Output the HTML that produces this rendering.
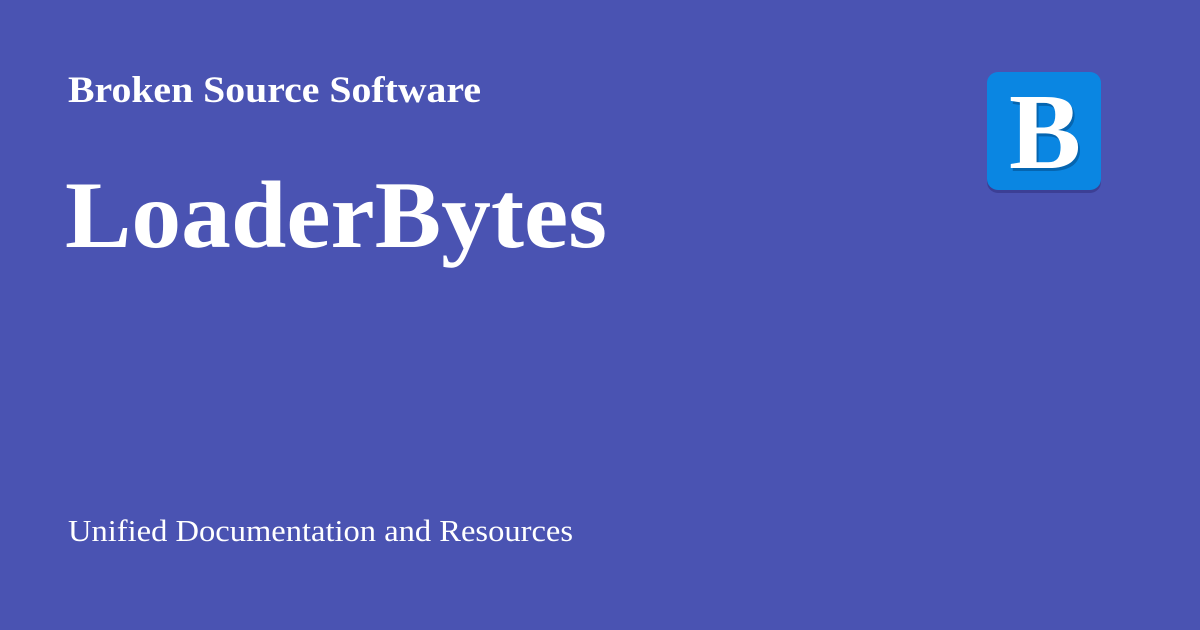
<!DOCTYPE html>
<html><head><style>
html,body{margin:0;padding:0;background:#4a53b2;}
svg{display:block}
</style></head><body>
<svg width="1200" height="630" xmlns="http://www.w3.org/2000/svg">
<rect width="1200" height="630" fill="#4a53b2"/>
<g font-family="'Liberation Serif', serif" fill="#fff">
<text x="68" y="102" font-size="37" font-weight="bold" textLength="413" lengthAdjust="spacingAndGlyphs">Broken Source Software</text>
<text x="65" y="247" font-size="95" font-weight="bold" textLength="542" lengthAdjust="spacingAndGlyphs">LoaderBytes</text>
<text x="68" y="541" font-size="31" textLength="505" lengthAdjust="spacingAndGlyphs">Unified Documentation and Resources</text>
</g>
<rect x="987" y="75" width="114" height="118" rx="11" fill="#3c3f95"/>
<rect x="987" y="72" width="114" height="118" rx="11" fill="#0a86e2"/>
<text x="1047" y="171" font-family="'Liberation Serif', serif" font-size="108" font-weight="bold" fill="#0565b0" text-anchor="middle">B</text>
<text x="1045" y="168" font-family="'Liberation Serif', serif" font-size="108" font-weight="bold" fill="#fff" text-anchor="middle">B</text>
</svg>
</body></html>
